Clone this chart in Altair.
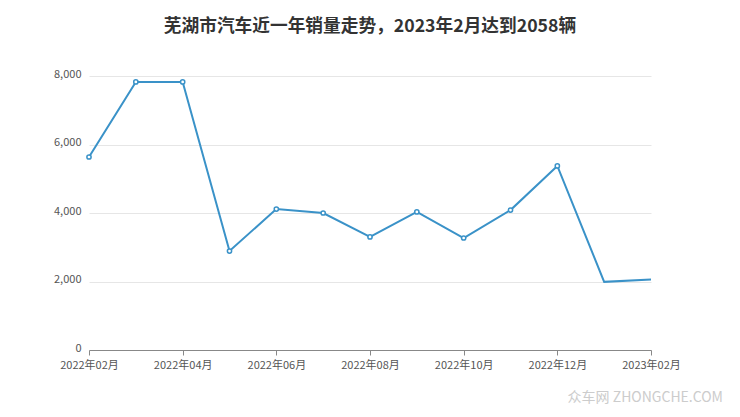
import altair as alt
import pandas as pd

months = ["2022-02", "2022-03", "2022-04", "2022-05", "2022-06",
          "2022-07", "2022-08", "2022-09", "2022-10", "2022-11",
          "2022-12", "2023-01", "2023-02"]
sales = [5635, 7825, 7825, 2890, 4115, 4000, 3300, 4030, 3270, 4085, 5375, 1990, 2058]
marker = [True] * 11 + [False, False]

df = pd.DataFrame({"month": months, "sales": sales, "marker": marker})

color = "#3a92c8"
label_expr = ("(2022 + floor((datum.value + 1) / 12)) + '年' + "
              "(((datum.value + 1) % 12 + 1) < 10 ? '0' : '') + ((datum.value + 1) % 12 + 1) + '月'")
x = alt.X("idx:Q", title=None,
          scale=alt.Scale(domain=[0, 12], nice=False, zero=False),
          axis=alt.Axis(values=[0, 2, 4, 6, 8, 10, 12], labelExpr=label_expr,
                        grid=False, domainColor="#888", tickColor="#888", tickSize=5,
                        labelColor="#555", labelFontSize=11, labelPadding=4, labelFlush=False))
y = alt.Y("sales:Q", title=None,
          scale=alt.Scale(domain=[0, 8000]),
          axis=alt.Axis(values=[0, 2000, 4000, 6000, 8000], format=",.0f", domain=False, ticks=False,
                        gridColor="#e6e6e6", labelColor="#555", labelFontSize=11, labelPadding=8,
                        labelOffset=-2))

base = alt.Chart(df).transform_calculate(
    idx="(toNumber(substring(datum.month, 0, 4)) - 2022) * 12 + toNumber(substring(datum.month, 5, 7)) - 2"
)
line = base.mark_line(color=color, strokeWidth=2).encode(x=x, y=y)
pts = base.transform_filter("datum.marker").mark_point(
    shape="circle", filled=True, fill="white", stroke=color, strokeWidth=1.5, size=18, opacity=1
).encode(x=x, y=y)

wm = alt.Chart(pd.DataFrame({"t": ["众车网  ZHONGCHE.COM"]})).mark_text(
    align="right", baseline="middle", fontSize=14, color="#cccccc", font="Noto Sans CJK SC"
).encode(x=alt.value(634), y=alt.value(322), text="t:N")

chart = alt.layer(line, pts, wm).properties(
    width=562, height=274,
    title=alt.TitleParams("芜湖市汽车近一年销量走势，2023年2月达到2058辆", fontSize=17.7, fontWeight="bold",
                          color="#333", font="Noto Sans CJK SC", anchor="middle", offset=32),
    autosize=alt.AutoSizeParams(type="none"),
    padding={"left": 81, "top": 68, "right": 81, "bottom": 67},
).configure_view(stroke=None).configure_axis(labelFont="Noto Sans CJK SC")

chart.save("out.html", embed_options={"renderer": "svg", "actions": False})
